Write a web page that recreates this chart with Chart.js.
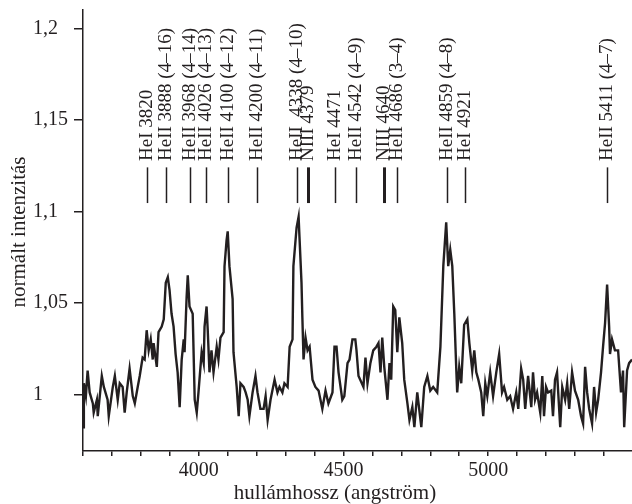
<!DOCTYPE html>
<html>
<head>
<meta charset="utf-8">
<script src="https://cdn.jsdelivr.net/npm/chart.js@4.4.1/dist/chart.umd.min.js"></script>
<style>
  html, body { margin: 0; padding: 0; background: #fff; }
</style>
</head>
<body>
<canvas id="spec" width="632" height="504"></canvas>
<script>
// spectrum (wavelength in angstrom, normalised intensity)
const wavelength = [
  3600, 3603, 3610, 3616, 3623, 3634, 3637, 3648, 3651, 3665, 3672, 3685, 3689, 3703, 3710, 3720,
  3727, 3737, 3744, 3751, 3761, 3772, 3779, 3789, 3796, 3806, 3813, 3820, 3827, 3834, 3841, 3844,
  3855, 3861, 3872, 3879, 3886, 3893, 3899, 3906, 3913, 3920, 3927, 3934, 3941, 3948, 3951, 3958,
  3962, 3968, 3979, 3986, 3993, 3999, 4010, 4017, 4020, 4027, 4031, 4037, 4044, 4051, 4062, 4068,
  4075, 4086, 4089, 4096, 4100, 4106, 4117, 4120, 4131, 4138, 4144, 4155, 4162, 4169, 4175, 4186,
  4196, 4203, 4213, 4224, 4231, 4238, 4248, 4262, 4272, 4279, 4289, 4296, 4307, 4314, 4324, 4327,
  4338, 4345, 4348, 4355, 4358, 4362, 4369, 4376, 4383, 4393, 4403, 4414, 4427, 4438, 4448, 4462,
  4469, 4476, 4483, 4496, 4503, 4514, 4521, 4531, 4541, 4545, 4552, 4569, 4576, 4583, 4593, 4603,
  4614, 4621, 4628, 4634, 4641, 4652, 4659, 4665, 4672, 4679, 4686, 4693, 4703, 4710, 4721, 4728,
  4738, 4745, 4755, 4769, 4779, 4790, 4800, 4810, 4824, 4835, 4845, 4855, 4862, 4869, 4876, 4883,
  4890, 4893, 4900, 4907, 4917, 4928, 4935, 4945, 4952, 4959, 4966, 4976, 4983, 4990, 4997, 5007,
  5017, 5028, 5038, 5048, 5055, 5066, 5076, 5086, 5097, 5104, 5114, 5121, 5128, 5138, 5149, 5155,
  5162, 5169, 5180, 5187, 5193, 5200, 5207, 5218, 5224, 5231, 5238, 5249, 5256, 5266, 5273, 5280,
  5290, 5300, 5311, 5321, 5328, 5335, 5342, 5349, 5359, 5366, 5373, 5380, 5390, 5397, 5404, 5411,
  5418, 5421, 5428, 5438, 5449, 5459, 5466, 5470, 5480, 5487, 5497
];
const intensity = [
  0.982, 1.006, 0.999, 1.013, 1.001, 0.995, 0.990, 0.997, 0.988, 1.010, 1.004, 0.997, 0.988, 1.004, 1.010, 0.997,
  1.006, 1.004, 0.990, 1.001, 1.014, 0.999, 0.995, 1.004, 1.010, 1.020, 1.019, 1.035, 1.024, 1.030, 1.019, 1.028,
  1.015, 1.034, 1.037, 1.041, 1.061, 1.064, 1.057, 1.044, 1.037, 1.022, 1.012, 0.993, 1.019, 1.030, 1.023, 1.053,
  1.065, 1.048, 1.044, 0.997, 0.990, 1.001, 1.023, 1.017, 1.037, 1.048, 1.035, 1.012, 1.024, 1.012, 1.026, 1.019,
  1.031, 1.034, 1.070, 1.084, 1.089, 1.070, 1.052, 1.023, 1.004, 0.988, 1.006, 1.004, 1.001, 0.997, 0.988, 1.001,
  1.010, 1.001, 0.992, 0.992, 0.999, 0.986, 0.997, 1.008, 1.001, 1.004, 1.001, 1.006, 1.004, 1.026, 1.030, 1.070,
  1.091, 1.097, 1.086, 1.061, 1.042, 1.019, 1.031, 1.024, 1.026, 1.008, 1.004, 1.002, 0.992, 1.002, 0.995, 1.001,
  1.026, 1.026, 1.012, 0.997, 0.999, 1.017, 1.019, 1.030, 1.030, 1.024, 1.010, 1.004, 1.020, 1.006, 1.017, 1.024,
  1.026, 1.028, 1.012, 1.031, 1.015, 0.997, 1.017, 1.008, 1.048, 1.046, 1.023, 1.042, 1.028, 1.008, 0.995, 0.986,
  0.993, 0.982, 1.001, 0.982, 1.004, 1.010, 1.002, 1.004, 1.001, 1.026, 1.070, 1.094, 1.070, 1.079, 1.070, 1.044,
  1.013, 1.001, 1.015, 1.006, 1.038, 1.041, 1.028, 1.013, 1.024, 1.012, 1.008, 1.001, 0.988, 1.006, 0.999, 1.012,
  0.999, 1.012, 1.022, 1.001, 1.004, 0.997, 0.999, 0.992, 1.001, 0.992, 1.014, 1.008, 0.992, 1.010, 0.993, 1.012,
  0.997, 1.001, 0.990, 1.010, 0.988, 1.004, 1.001, 1.002, 0.988, 1.008, 1.012, 0.982, 1.004, 0.997, 1.006, 0.992,
  1.012, 1.002, 0.997, 0.988, 0.984, 1.015, 1.001, 0.992, 0.984, 1.004, 0.990, 0.997, 1.012, 1.026, 1.039, 1.060,
  1.037, 1.022, 1.030, 1.024, 1.024, 1.001, 1.013, 0.982, 1.013, 1.017, 1.019
];

// identified lines
const lineLambda = [3820, 3888, 3968, 4026, 4100, 4200, 4338, 4379, 4471, 4542, 4640, 4686, 4859, 4921, 5411];
const lineLabels = [
  "HeI 3820", "HeII 3888 (4–16)", "HeII 3968 (4–14)", "HeII 4026 (4–13)", "HeII 4100 (4–12)",
  "HeII 4200 (4–11)", "HeII  4338 (4–10)", "NIII 4379", "HeI 4471", "HeII 4542 (4–9)",
  "NIII 4640", "HeII 4686 (3–4)", "HeII 4859 (4–8)", "HeI 4921", "HeII 5411 (4–7)"
];
const lineWidths = [1.5, 1.5, 1.5, 1.5, 1.5, 1.5, 1.5, 3, 1.5, 1.5, 3, 1.5, 1.5, 1.5, 1.5];

const xTicks = [3600, 3700, 3800, 3900, 4000, 4100, 4200, 4300, 4400, 4500, 4600, 4700, 4800, 4900, 5000, 5100, 5200, 5300, 5400];
const xTickLabels = ["", "", "", "", "4000", "", "", "", "", "4500", "", "", "", "", "5000", "", "", "", ""];
const yTicks = [1, 1.05, 1.1, 1.15, 1.2];
const yTickLabels = ["1", "1,05", "1,1", "1,15", "1,2"];

const xTitle = "hullámhossz (angström)";
const yTitle = "normált intenzitás";

const INK = "#231f20";
const SERIF = '"Liberation Serif", "DejaVu Serif", serif';

// marker lines sit between these intensities, labels start just above
const MARK_LOW = 1.1045, MARK_HIGH = 1.124, LABEL_AT = 1.1275;

const annotations = {
  id: "annotations",
  afterDraw(chart) {
    const { ctx, scales: { x, y } } = chart;
    ctx.save();
    ctx.strokeStyle = INK;
    ctx.fillStyle = INK;
    ctx.font = "19px " + SERIF;
    ctx.textAlign = "left";
    ctx.textBaseline = "middle";
    lineLambda.forEach((l, i) => {
      const px = Math.round(x.getPixelForValue(l)) + 0.5;
      ctx.lineWidth = lineWidths[i];
      ctx.beginPath();
      ctx.moveTo(px, y.getPixelForValue(MARK_LOW));
      ctx.lineTo(px, y.getPixelForValue(MARK_HIGH));
      ctx.stroke();
      ctx.save();
      ctx.translate(px, y.getPixelForValue(LABEL_AT));
      ctx.rotate(-Math.PI / 2);
      ctx.fillText(lineLabels[i], 0, 0);
      ctx.restore();
    });

    // axis titles
    ctx.font = "21px " + SERIF;
    ctx.textAlign = "center";
    ctx.fillText(xTitle, 335, 493);
    ctx.save();
    ctx.translate(19, 232);
    ctx.rotate(-Math.PI / 2);
    ctx.fillText(yTitle, 0, 0);
    ctx.restore();
    ctx.restore();
  }
};

new Chart(document.getElementById("spec"), {
  type: "scatter",
  data: {
    datasets: [{
      data: wavelength.map((w, i) => ({ x: w, y: intensity[i] })),
      showLine: true,
      borderColor: INK,
      borderWidth: 2.4,
      pointRadius: 0,
      tension: 0
    }]
  },
  options: {
    responsive: false,
    animation: false,
    devicePixelRatio: 1,
    layout: { padding: { left: 33, top: 10, right: 0, bottom: 0 } },
    plugins: { legend: { display: false }, tooltip: { enabled: false } },
    scales: {
      x: {
        type: "linear",
        min: 3600,
        max: 5497,
        afterBuildTicks: s => { s.ticks = xTicks.map(v => ({ value: v })); },
        afterFit: s => { s.height = 53; s.paddingLeft = 0; s.paddingRight = 0; },
        ticks: {
          autoSkip: false,
          maxRotation: 0,
          padding: 3,
          color: INK,
          font: { family: SERIF, size: 20 },
          callback: v => xTickLabels[xTicks.indexOf(v)]
        },
        grid: { drawOnChartArea: false, tickLength: 5, color: INK, lineWidth: 1.5 },
        border: { color: INK, width: 1.5 }
      },
      y: {
        min: 0.969,
        max: 1.21,
        afterBuildTicks: s => { s.ticks = yTicks.map(v => ({ value: v })); },
        afterFit: s => { s.width = 50; s.paddingTop = 0; s.paddingBottom = 0; },
        ticks: {
          crossAlign: "far",
          color: INK,
          font: { family: SERIF, size: 20 },
          callback: v => yTickLabels[yTicks.indexOf(v)]
        },
        grid: { drawOnChartArea: false, tickLength: 9, color: INK, lineWidth: 1.5 },
        border: { color: INK, width: 1.5 }
      }
    }
  },
  plugins: [annotations]
});
</script>
</body>
</html>
